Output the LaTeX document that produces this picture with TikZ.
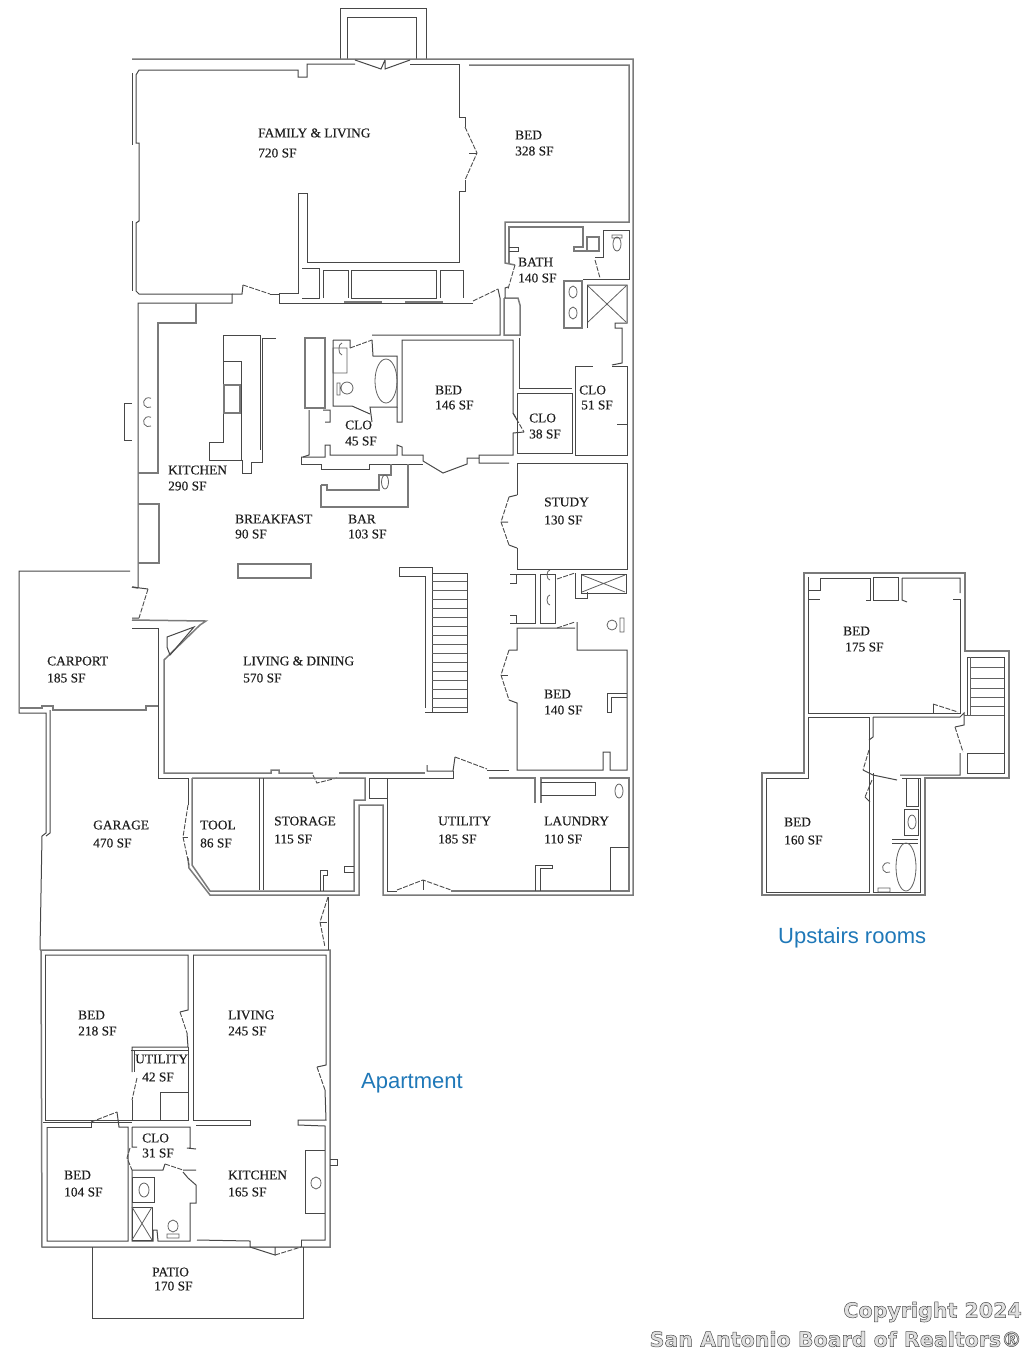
\documentclass[tikz,border=0pt]{standalone}
\usepackage{fontspec}
\setmainfont{Liberation Serif}
\setsansfont{Liberation Sans}
\newfontfamily\planfont[FakeBold=0.35]{Liberation Serif}
\newfontfamily\markfont[FakeBold=2.4]{DejaVu Sans Bold}
\definecolor{blue2}{HTML}{1F78B8}
\tikzset{
  wall/.style={draw=black!52,line width=1.5pt,line join=miter},
  inner/.style={draw=black!72,line width=1pt},
  swing/.style={draw=black!70,line width=0.9pt,dash pattern=on 5pt off 1.5pt},
  fixture/.style={draw=black!62,line width=0.8pt},
  roomtext/.style={inner sep=0pt,anchor=west,font=\planfont\fontsize{13.4}{13.4}\selectfont,text=black!88},
  bluetext/.style={inner sep=0pt,anchor=west,font=\sffamily\fontsize{22}{22}\selectfont,text=blue2},
  marktext/.style={inner sep=0pt,anchor=east,font=\markfont\fontsize{20.6}{20.6}\selectfont,text=black!12}
}
\begin{document}
\begin{tikzpicture}[x=1pt,y=-1pt]
\useasboundingbox (0,0) rectangle (1024,1353);
% chimney and outer shell
\draw[inner] (340,59) -- (340,8) -- (426,8) -- (426,59);
\draw[inner] (347,59) -- (347,17) -- (416,17) -- (416,59);
\draw[wall] (132,59) -- (633,59) -- (633,895) -- (383,895) -- (383,805) -- (359,805) -- (359,895) -- (210,895) -- (189,868) -- (188,858);
\draw[wall] (469,65) -- (629,65) -- (629,222) -- (505,222) -- (505,263) -- (515,265);
\draw[wall] (509,264) -- (509,227) -- (583,227) -- (583,247) -- (574,247) -- (574,251) -- (599,251) -- (599,237) -- (587,237) -- (587,251);
\draw[inner] (509,247) -- (518,247) -- (518,251) -- (509,251);
% family room
\draw[inner] (355,64) -- (307,64) -- (307,77) -- (298,77) -- (298,70) -- (139,70) -- (136,75) -- (136,143) -- (139,143) -- (139,221) -- (136,223) -- (136,291) -- (139,294) -- (232,294) -- (232,303) -- (138,303) -- (138,588);
\draw[inner] (232,294) -- (242,294) -- (243,285);
\draw[inner] (410,64) -- (459,64) -- (459,117) -- (465,117) -- (465,127);
\draw[swing] (465,127) -- (477,153) -- (465,180);
\draw[inner] (469,153) -- (477,153);
\draw[inner] (465,180) -- (465,191) -- (459,191) -- (459,262) -- (307,262) -- (307,193) -- (298,193) -- (298,293) -- (279,293) -- (279,303) -- (473,303);
\draw[inner] (270,294) -- (279,294);
\draw[inner] (132,73) -- (132,145) (132,221) -- (132,291);
\draw[inner] (355,60) -- (381,69) -- (385,60) (410,60) -- (385,69) -- (385,60);
\draw[swing] (243,285) -- (270,294);
% built-ins
\draw[inner] (302,268) -- (319,268) -- (319,298) -- (302,298);
\draw[inner] (323,298) -- (323,270) -- (348,270) -- (348,298);
\draw[inner] (351,298) -- (351,270) -- (436,270) -- (436,298) -- (351,298);
\draw[inner] (440,298) -- (440,270) -- (463,270) -- (463,298);
\draw[wall] (344,302) -- (382,302) (405,302) -- (443,302);
\draw[swing] (473,301) -- (498,289);
\draw[inner] (498,289) -- (500,298) -- (500,335) -- (372,335);
\draw[wall] (504,298) -- (518,298) -- (520,305) -- (520,335) -- (504,335) -- (504,298);
% master bath at top right
\draw[swing] (515,265) -- (508,289);
\draw[inner] (508,287) -- (505,288) -- (505,298);
\draw[inner] (603,230) -- (629,230) -- (629,279) -- (583,279) (603,230) -- (603,257) -- (595,257);
\draw[swing] (595,260) -- (600,278);
\draw[fixture] (612,235) -- (622,235) -- (622,238) -- (612,238) -- cycle (617,244) ellipse (4 and 7);
\draw[wall] (564,281) -- (582,281) -- (582,328) -- (564,328) -- cycle;
\draw[inner] (587,285) -- (627,285) -- (627,323) -- (615,323) -- (615,328) -- (622,328) -- (622,363) -- (612,365);
\draw[inner] (587,285) -- (587,328);
\draw[fixture] (573,292) ellipse (4 and 6) (573,313) ellipse (4 and 6);
\draw[fixture] (588,286) -- (626,322) (626,286) -- (588,322);
\draw[inner] (519,338) -- (519,388) -- (572,388);
\draw[inner] (575,388) -- (575,366) -- (593,366) (612,366) -- (627,366) -- (627,455) -- (575,455) -- (575,388);
\draw[inner] (617,424) -- (627,424);
\draw[inner] (517,393) -- (572,393) -- (572,453) -- (517,453) -- cycle;
% bedroom 146
\draw[inner] (397,407) -- (397,422) -- (402,422) -- (402,340) -- (513,340) -- (513,413) -- (517,420);
\draw[swing] (513,413) -- (524,432);
\draw[inner] (524,432) -- (513,433) -- (513,455) -- (479,455) -- (479,458);
\draw[inner] (333,340) -- (350,340) -- (350,348) (372,340) -- (373,356) -- (397,356) -- (397,407) -- (370,407) -- (372,422);
\draw[swing] (350,348) -- (372,340);
\draw[inner] (333,340) -- (333,406) -- (352,406) -- (370,414);
\draw[wall] (305,338) -- (325,338) -- (325,408) -- (305,408) -- cycle;
\draw[fixture] (333,348) rectangle (347,373) (386,381) ellipse (11 and 22) (347,388) ellipse (6 and 6) (337,383) rectangle (340,395);
\draw[fixture] (342,355) arc (90:270:3 and 6);
\draw[inner] (309,410) -- (309,455) -- (303,457) (323,410) -- (330,410) -- (330,422) -- (325,422);
\draw[inner] (301,457) -- (325,457) -- (325,445) -- (330,445) -- (330,455) -- (397,455) -- (397,445) -- (402,447) -- (402,455) -- (423,455) -- (423,461);
\draw[inner] (423,461) -- (443,473) -- (467,464) -- (467,458) -- (479,458) -- (479,463) -- (509,463);
\draw[inner] (301,457) -- (301,464) -- (321,464) -- (321,469) -- (369,469) -- (369,464) -- (423,464);
% kitchen
\draw[wall] (196,303) -- (196,323) -- (158,323) -- (158,473) -- (138,473) (138,504) -- (159,504) -- (159,563) -- (138,563);
\draw[inner] (223,335) -- (260,335) -- (260,450) (262,338) -- (276,338) (262,338) -- (262,462) -- (251,462) -- (251,473) -- (242,473) -- (242,460) -- (209,460) -- (209,442) -- (223,442) -- (223,335);
\draw[inner] (223,361) -- (241,361) -- (241,460);
\draw[wall] (224,385) rectangle (240,413);
\draw[inner] (132,403) -- (124,403) -- (124,440) -- (132,440);
\draw[fixture] (151,407) arc (60:300:5) (151,426) arc (60:300:5);
% bar and counters
\draw[wall] (321,485) -- (321,507) -- (408,507) -- (408,464);
\draw[wall] (321,485) -- (327,485) -- (327,490) -- (379,490) -- (379,475) -- (391,475) -- (391,464);
\draw[fixture] (385,482) ellipse (3.5 and 7);
\draw[wall] (238,564) rectangle (311,578);
% stairs
\draw[inner] (399,567) -- (432,567) -- (432,712) -- (467,712) -- (467,573) -- (432,573);
\draw[inner] (399,567) -- (399,576) -- (425,576) -- (425,708) (425,712) -- (432,712);
\foreach \y in {581,590,...,707}{
  \draw[fixture] (432,\y) -- (467,\y);
}
% study and side rooms
\draw[inner] (517,495) -- (517,463) -- (627,463) -- (627,569) -- (517,569) -- (517,548);
\draw[inner] (517,495) -- (509,497);
\draw[swing] (509,497) -- (501,522) -- (509,545);
\draw[inner] (501,522) -- (508,522) (509,545) -- (517,548);
\draw[inner] (510,574) -- (535,574) -- (535,623) -- (510,623);
\draw[inner] (510,583) -- (516,583) -- (516,574) (510,615) -- (516,615) -- (516,623);
\draw[inner] (540,574) rectangle (555,623);
\draw[fixture] (550,580) arc (90:270:3 and 5) (550,605) arc (90:270:3 and 5);
\draw[swing] (557,579) -- (575,573) (557,628) -- (575,622);
\draw[inner] (575,573) -- (575,598) -- (587,598) -- (587,592);
\draw[inner] (581,574) rectangle (626,593);
\draw[fixture] (582,575) -- (625,592) (625,575) -- (582,592);
\draw[fixture] (612,625) ellipse (5 and 5) (620,618) rectangle (624,632);
% bed 140
\draw[inner] (509,650) -- (517,650) -- (517,628) -- (575,628) (577,622) -- (577,650) -- (627,650) -- (627,770) -- (610,770) -- (610,752) -- (603,752) -- (603,770) -- (517,770) -- (517,703) -- (509,700);
\draw[inner] (627,693) -- (607,693) -- (607,712) -- (611,712) -- (611,697) -- (627,697);
\draw[swing] (509,650) -- (501,675) -- (509,700);
\draw[inner] (501,675) -- (508,675);
% living and lower row
\draw[wall] (138,588) -- (132,587);
\draw[swing] (148,589) -- (139,618);
\draw[inner] (132,587) -- (148,589) (132,618) -- (139,618);
\draw[wall] (132,620) -- (206,621) -- (200,625) -- (164,660) -- (164,773) -- (271,773) -- (271,770) -- (279,770) -- (279,773) -- (313,773);
\draw[wall] (339,773) -- (425,773);
\draw[inner] (132,628) -- (158,628) -- (158,778) -- (188,778) -- (188,805);
\draw[inner] (167,637) -- (194,627) -- (170,655) -- (167,647) -- cycle;
\draw[swing] (313,775) -- (317,783) -- (337,778);
\draw[inner] (427,765) -- (427,771) -- (453,771) -- (455,757);
\draw[swing] (455,757) -- (487,769);
\draw[inner] (487,770) -- (509,770);
% tool and storage
\draw[swing] (188,805) -- (183,837) -- (189,865);
\draw[inner] (183,837) -- (188,837);
\draw[wall] (192,778) -- (192,865) -- (210,891) -- (354,891) -- (354,800) -- (365,800) -- (365,778) -- (192,778);
\draw[inner] (259,778) -- (259,890) (263,778) -- (263,890);
\draw[inner] (320,891) -- (320,870) -- (327,870) -- (327,875) -- (323,875) -- (323,891) (354,866) -- (344,866) -- (344,872) -- (354,872);
% utility and laundry
\draw[inner] (369,778) -- (453,778) -- (453,771);
\draw[inner] (369,778) -- (369,798) -- (387,798) (387,778) -- (387,891) -- (397,891);
\draw[swing] (397,890) -- (423,880) -- (451,890);
\draw[inner] (423,880) -- (423,890);
\draw[wall] (451,891) -- (629,891) -- (629,778) -- (541,778) -- (541,803) (535,803) -- (535,778) -- (489,778);
\draw[inner] (535,891) -- (535,865) -- (552,865) -- (552,868) -- (540,868) -- (540,891);
\draw[inner] (541,782) -- (595,782) -- (595,795) -- (541,795);
\draw[fixture] (619,791) ellipse (4 and 7);
\draw[inner] (610,891) -- (610,847) -- (629,847);
% carport and garage
\draw[inner] (130,571) -- (19,571) -- (19,713) -- (46,713) -- (46,833) -- (42,836) -- (40,950);
\draw[wall] (20,708) -- (42,708) -- (42,706) -- (53,706) -- (53,710) -- (146,710) -- (146,706) -- (158,706);
\draw[inner] (50,710) -- (50,833) -- (46,836);
% apartment
\draw[wall] (40,950) -- (330,950) -- (330,1247) -- (42,1247) -- (41,950);
\draw[swing] (328,897) -- (320,922) -- (325,947);
\draw[inner] (328,897) -- (328,950);
\draw[inner] (320,922) -- (327,922);
\draw[inner] (45,955) -- (188,955) -- (188,1010) -- (180,1012);
\draw[swing] (180,1012) -- (187,1033);
\draw[inner] (187,1033) -- (188,1047) -- (132,1047) -- (132,1072);
\draw[swing] (137,1078) -- (132,1100);
\draw[inner] (132,1100) -- (132,1120) -- (45,1120) -- (45,955);
\draw[inner] (131,1050) -- (188,1050) (134,1050) -- (134,1072);
\draw[inner] (160,1120) -- (160,1092) -- (188,1092) (132,1120) -- (188,1120) -- (188,1047);
\draw[inner] (193,955) -- (326,955) -- (326,1065) -- (317,1067);
\draw[swing] (317,1067) -- (325,1090);
\draw[inner] (325,1090) -- (326,1120) -- (298,1120) -- (298,1125) -- (325,1126) -- (325,1240) -- (301,1240);
\draw[inner] (193,955) -- (193,1120) -- (250,1120) -- (250,1125) -- (196,1125);
\draw[inner] (47,1127) -- (91,1127) -- (91,1122);
\draw[swing] (91,1122) -- (117,1112);
\draw[inner] (117,1112) -- (119,1127) -- (128,1127) -- (128,1241) -- (47,1241) -- (47,1127);
\draw[inner] (43,1122) -- (132,1122);
\draw[inner] (132,1127) -- (190,1127) -- (190,1148) -- (187,1148) -- (196,1149) (132,1127) -- (132,1147) -- (137,1147);
\draw[swing] (130,1148) -- (127,1158) -- (132,1170);
\draw[inner] (132,1170) -- (163,1170) -- (165,1164);
\draw[swing] (165,1164) -- (183,1170);
\draw[inner] (183,1170) -- (196,1170) (183,1172) -- (188,1178) -- (196,1185) -- (196,1203) -- (190,1203) -- (190,1241) -- (158,1241) -- (157,1230) -- (153,1230) -- (153,1241) -- (132,1241) -- (132,1170);
\draw[inner] (132,1177) rectangle (154,1202) (132,1207) rectangle (152,1240);
\draw[fixture] (144,1190) ellipse (5 and 7) (132,1207) -- (152,1240) (152,1207) -- (132,1240);
\draw[fixture] (173,1226) ellipse (5 and 6) (167,1234) rectangle (179,1238);
\draw[inner] (197,1240) -- (250,1241) -- (250,1247) -- (275,1255) -- (275,1247);
\draw[swing] (275,1255) -- (301,1247);
\draw[inner] (301,1247) -- (301,1240);
\draw[inner] (305,1150) -- (325,1150) (305,1150) -- (305,1213) -- (325,1213);
\draw[fixture] (316,1183) ellipse (5 and 6);
\draw[inner] (330,1159) -- (337,1159) -- (337,1165) -- (330,1165);
\draw[inner] (92,1247) -- (92,1318) -- (303,1318) -- (303,1247);
% upstairs rooms
\draw[wall] (804,573) -- (965,573) -- (965,651) -- (1009,651) -- (1009,778) -- (925,778) -- (925,895) -- (762,895) -- (762,773) -- (804,773) -- cycle;
\draw[inner] (820,578) -- (870,578) -- (870,600) -- (866,600) (820,578) -- (820,590) -- (808,590) -- (808,577) (808,599) -- (820,599) (808,590) -- (808,713) -- (960,713) -- (960,599) -- (953,599);
\draw[inner] (873,577) -- (898,577) -- (898,600) -- (873,600) -- cycle;
\draw[inner] (902,578) -- (960,578) -- (960,593) (902,578) -- (902,600) -- (907,602);
\draw[inner] (933,713) -- (933,704);
\draw[swing] (933,704) -- (958,712);
\draw[inner] (873,717) -- (960,717) -- (964,713) -- (964,725) -- (955,727);
\draw[swing] (955,727) -- (963,752);
\draw[inner] (960,753) -- (960,775) -- (900,775) (873,717) -- (873,737) -- (869,740);
\draw[swing] (869,750) -- (863,770);
\draw[inner] (863,770) -- (873,775) -- (897,780);
\draw[inner] (808,717) -- (869,717) -- (869,892) -- (766,892) -- (766,778) -- (808,778) -- cycle;
\draw[swing] (872,780) -- (865,797);
\draw[inner] (865,797) -- (870,802);
\draw[inner] (873,773) -- (873,892) -- (920,892) -- (920,778) -- (902,778);
\draw[inner] (906,778) rectangle (918,806) (904,809) rectangle (918,835) (892,839) -- (918,839) (892,843) -- (918,843);
\draw[fixture] (912,822) ellipse (4 and 7) (906,867) ellipse (10 and 24) (890,872) arc (60:300:5) (878,888) rectangle (890,892);
\draw[inner] (967,657) -- (1004,657) -- (1004,773) -- (967,773) -- (967,753) -- (1004,753);
\draw[inner] (967,657) -- (967,715);
\draw[fixture] (970,657) -- (970,715) (964,715) -- (1004,715);
\foreach \y in {667,678,688,697,706}{
  \draw[fixture] (970,\y) -- (1004,\y);
}
% room labels
\node[roomtext] (family) at (258,133) {FAMILY \& LIVING};
\node[roomtext] (familysf) at (258,153) {720 SF};
\node[roomtext] (bedone) at (515,135) {BED};
\node[roomtext] (bedonesf) at (515,151) {328 SF};
\node[roomtext] (bath) at (518,262) {BATH};
\node[roomtext] (bathsf) at (518,278) {140 SF};
\node[roomtext] (bedtwo) at (435,390) {BED};
\node[roomtext] (bedtwosf) at (435,405) {146 SF};
\node[roomtext] (cloone) at (345,425) {CLO};
\node[roomtext] (clonesf) at (345,441) {45 SF};
\node[roomtext] (clotwo) at (529,418) {CLO};
\node[roomtext] (clotwosf) at (529,434) {38 SF};
\node[roomtext] (clothree) at (579,390) {CLO};
\node[roomtext] (clothreesf) at (581,405) {51 SF};
\node[roomtext] (kitchen) at (168,470) {KITCHEN};
\node[roomtext] (kitchensf) at (168,486) {290 SF};
\node[roomtext] (breakfast) at (235,519) {BREAKFAST};
\node[roomtext] (breakfastsf) at (235,534) {90 SF};
\node[roomtext] (bar) at (348,519) {BAR};
\node[roomtext] (barsf) at (348,534) {103 SF};
\node[roomtext] (study) at (544,502) {STUDY};
\node[roomtext] (studysf) at (544,520) {130 SF};
\node[roomtext] (livingdining) at (243,661) {LIVING \& DINING};
\node[roomtext] (livingdiningsf) at (243,678) {570 SF};
\node[roomtext] (carport) at (47,661) {CARPORT};
\node[roomtext] (carportsf) at (47,678) {185 SF};
\node[roomtext] (bedthree) at (544,694) {BED};
\node[roomtext] (bedthreesf) at (544,710) {140 SF};
\node[roomtext] (garage) at (93,825) {GARAGE};
\node[roomtext] (garagesf) at (93,843) {470 SF};
\node[roomtext] (tool) at (200,825) {TOOL};
\node[roomtext] (toolsf) at (200,843) {86 SF};
\node[roomtext] (storage) at (274,821) {STORAGE};
\node[roomtext] (storagesf) at (274,839) {115 SF};
\node[roomtext] (utility) at (438,821) {UTILITY};
\node[roomtext] (utilitysf) at (438,839) {185 SF};
\node[roomtext] (laundry) at (544,821) {LAUNDRY};
\node[roomtext] (laundrysf) at (544,839) {110 SF};
\node[roomtext] (aptbed) at (78,1015) {BED};
\node[roomtext] (aptbedsf) at (78,1031) {218 SF};
\node[roomtext] (aptliving) at (228,1015) {LIVING};
\node[roomtext] (aptlivingsf) at (228,1031) {245 SF};
\node[roomtext] (aptutility) at (135,1059) {UTILITY};
\node[roomtext] (aptutilitysf) at (142,1077) {42 SF};
\node[roomtext] (aptclo) at (142,1138) {CLO};
\node[roomtext] (aptclosf) at (142,1153) {31 SF};
\node[roomtext] (aptbedtwo) at (64,1175) {BED};
\node[roomtext] (aptbedtwosf) at (64,1192) {104 SF};
\node[roomtext] (aptkitchen) at (228,1175) {KITCHEN};
\node[roomtext] (aptkitchensf) at (228,1192) {165 SF};
\node[roomtext] (patio) at (152,1272) {PATIO};
\node[roomtext] (patiosf) at (154,1286) {170 SF};
\node[roomtext] (upbed) at (843,631) {BED};
\node[roomtext] (upbedsf) at (845,647) {175 SF};
\node[roomtext] (upbedtwo) at (784,822) {BED};
\node[roomtext] (upbedtwosf) at (784,840) {160 SF};
% captions
\node[bluetext] (apartment) at (361,1083) {Apartment};
\node[bluetext] (upstairs) at (778,938) {Upstairs rooms};
\node[marktext] (copyright) at (1022,1312) {\special{pdf:code 0.3 G}Copyright 2024};
\node[marktext] (board) at (1022,1339) {\special{pdf:code 0.3 G}San Antonio Board of Realtors®};
\end{tikzpicture}
\end{document}
